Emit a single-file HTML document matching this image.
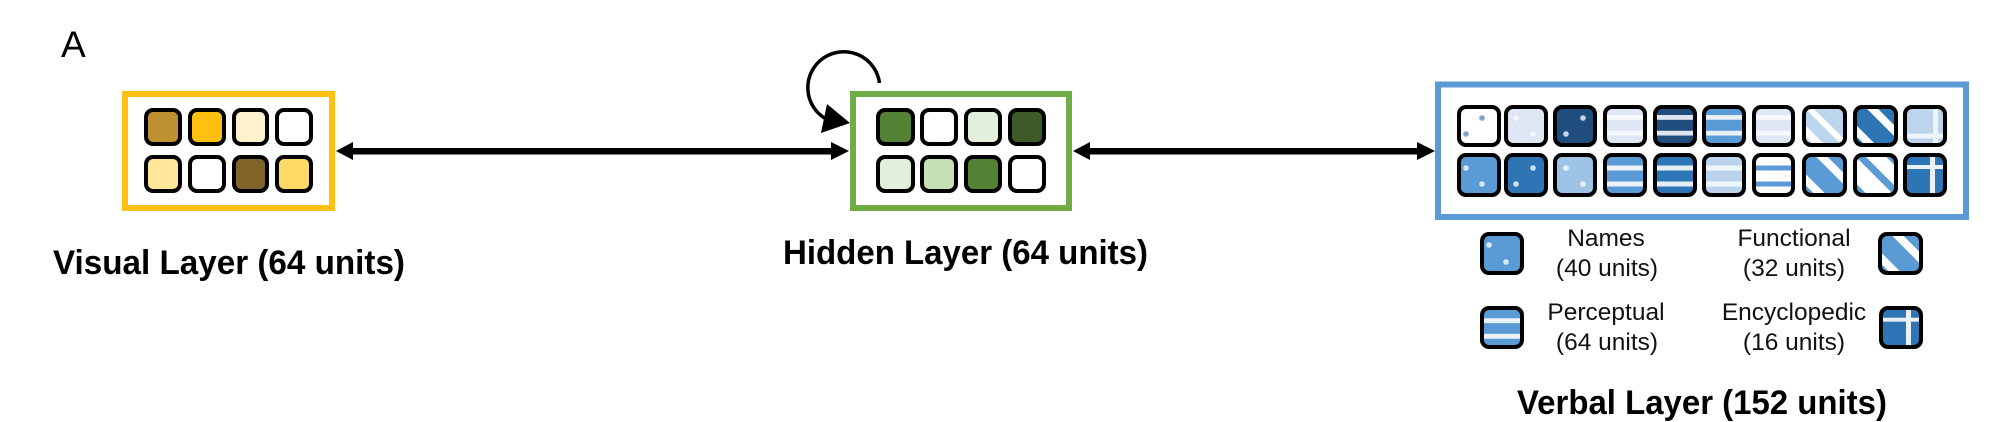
<!DOCTYPE html>
<html><head><meta charset="utf-8"><style>
html,body{margin:0;padding:0;background:#fff;width:2006px;height:422px;overflow:hidden}
svg{display:block}
text{font-family:"Liberation Sans",Arial,sans-serif;fill:#000}
.b{font-weight:700;font-size:34px}
.l{font-size:24.5px;text-anchor:middle;fill:#111}
.c rect{stroke:#000;stroke-width:4}
.o rect{fill:none;stroke:#000;stroke-width:4}
</style></head><body>
<svg width="2006" height="422" viewBox="0 0 2006 422" xmlns="http://www.w3.org/2000/svg">
<defs>
<clipPath id="r"><rect x="1" y="1" width="42" height="42" rx="9"/></clipPath>
<symbol id="s1" viewBox="0 0 44 44" preserveAspectRatio="none"><rect x="0" y="10.500" width="44" height="5"/><rect x="0" y="27" width="44" height="5"/></symbol>
<symbol id="s2" viewBox="0 0 44 44" preserveAspectRatio="none"><rect x="0" y="12.500" width="44" height="5"/><rect x="0" y="28.500" width="44" height="5"/></symbol>
<symbol id="g" viewBox="0 0 44 44"><g clip-path="url(#r)"><path d="M5 -10L60 45M-10 14L30 54" fill="none" stroke="currentColor" stroke-width="8"/></g></symbol>
<symbol id="g2" viewBox="0 0 44 44"><g clip-path="url(#r)"><path d="M-7 -10L50 47" fill="none" stroke="currentColor" stroke-width="6"/><path d="M-10 14L30 54" fill="none" stroke="currentColor" stroke-width="8"/></g></symbol>
<symbol id="g3" viewBox="0 0 44 44"><g clip-path="url(#r)"><path d="M-7 -10L50 47" fill="none" stroke="currentColor" stroke-width="7"/><path d="M-10 24L30 64M24 -10L64 30" fill="none" stroke="currentColor" stroke-width="8"/></g></symbol>
<symbol id="c1" viewBox="0 0 44 44" preserveAspectRatio="none"><rect x="0" y="30" width="44" height="5"/><rect x="30" y="0" width="5" height="44"/></symbol>
<symbol id="c2" viewBox="0 0 44 44" preserveAspectRatio="none"><rect x="0" y="12" width="44" height="4"/><rect x="27" y="0" width="5" height="44"/></symbol>
</defs>
<text x="61" y="57" font-size="37">A</text>

<!-- visual -->
<rect x="125" y="94" width="207" height="114" fill="#fff" stroke="#ffc015" stroke-width="6"/>
<g class="c">
<rect x="146" y="110" width="34" height="34" rx="7" fill="#bf9030"/>
<rect x="190" y="110" width="34" height="34" rx="7" fill="#ffc010"/>
<rect x="234" y="110" width="33" height="34" rx="7" fill="#fff2cc"/>
<rect x="277" y="110" width="34" height="34" rx="7" fill="#fff"/>
<rect x="146" y="157" width="34" height="34" rx="7" fill="#ffe699"/>
<rect x="190" y="157" width="34" height="34" rx="7" fill="#fff"/>
<rect x="234" y="157" width="33" height="34" rx="7" fill="#7f6328"/>
<rect x="277" y="157" width="34" height="34" rx="7" fill="#ffd966"/>
</g>

<!-- hidden -->
<rect x="853" y="94" width="216" height="114" fill="#fff" stroke="#70ad47" stroke-width="6"/>
<g class="c">
<rect x="878" y="110" width="35" height="34" rx="7" fill="#548235"/>
<rect x="922" y="110" width="34" height="34" rx="7" fill="#fff"/>
<rect x="966" y="110" width="34" height="34" rx="7" fill="#e2efda"/>
<rect x="1010" y="110" width="34" height="34" rx="7" fill="#3d5a2a"/>
<rect x="878" y="157" width="35" height="34" rx="7" fill="#e2efda"/>
<rect x="922" y="157" width="34" height="34" rx="7" fill="#c5e0b4"/>
<rect x="966" y="157" width="34" height="34" rx="7" fill="#548235"/>
<rect x="1010" y="157" width="34" height="34" rx="7" fill="#fff"/>
</g>

<!-- connectors -->
<rect x="350" y="148" width="484" height="6.500"/>
<path d="M336 151L353 142V160Z"/><path d="M849 151L831 142V160Z"/>
<rect x="1088" y="148" width="330" height="6.500"/>
<path d="M1073 151L1090 142V160Z"/>
<path d="M1435 151L1417 142V160Z"/>
<path d="M879.500 83A36 36 0 1 0 826 119" fill="none" stroke="#000" stroke-width="3.500"/>
<path d="M827 104L821 133L850 123Z"/>

<!-- verbal -->
<rect x="1438" y="84.500" width="528" height="132.500" fill="#fff" stroke="#5b9bd5" stroke-width="6"/>

<!-- row 1 fills -->
<rect x="1459" y="107" width="40" height="38" rx="7" fill="#fff"/>
<circle cx="1482" cy="118" r="2.800" fill="#7fa3d0"/><circle cx="1466" cy="134" r="2.800" fill="#7fa3d0"/>
<rect x="1506" y="107" width="40" height="38" rx="7" fill="#dee7f3"/>
<circle cx="1516" cy="118" r="2.800" fill="#f4f7fb"/><circle cx="1533" cy="134" r="2.800" fill="#f4f7fb"/>
<rect x="1555" y="107" width="40" height="38" rx="7" fill="#1f4e7e"/>
<circle cx="1583" cy="118" r="2.800" fill="#c8d6e8"/><circle cx="1566" cy="134" r="2.800" fill="#c8d6e8"/>
<rect x="1605" y="107" width="40" height="38" rx="7" fill="#dee7f3"/><use href="#s1" x="1603" y="105" width="44" height="42" fill="#f6f9fc"/>
<rect x="1655" y="107" width="40" height="38" rx="7" fill="#1f4e7e"/><use href="#s1" x="1653" y="105" width="44" height="42" fill="#dfe6ef"/>
<rect x="1704" y="107" width="40" height="38" rx="7" fill="#5b9bd5"/><use href="#s1" x="1702" y="105" width="44" height="42" fill="#e8f0f8"/>
<rect x="1754" y="107" width="39" height="38" rx="7" fill="#dee7f3"/><use href="#s1" x="1752" y="105" width="43" height="42" fill="#f6f9fc"/>
<rect x="1804" y="107" width="41" height="38" rx="7" fill="#bdd5ec"/><use href="#g2" x="1803" y="105" width="43" height="43" color="#fff"/>
<rect x="1855" y="107" width="41" height="38" rx="7" fill="#2e75b6"/><use href="#g" x="1854" y="105" width="43" height="43" color="#fff"/>
<rect x="1905" y="107" width="40" height="38" rx="7" fill="#bdd5ec"/><use href="#c1" x="1903" y="105" width="44" height="42" fill="#eef4fa"/>

<!-- row 2 fills -->
<rect x="1459" y="155" width="40" height="40" rx="7" fill="#5b9bd5"/>
<circle cx="1466" cy="168" r="2.800" fill="#dbe8f5"/><circle cx="1482" cy="184" r="2.800" fill="#dbe8f5"/>
<rect x="1506" y="155" width="40" height="40" rx="7" fill="#2e75b6"/>
<circle cx="1533" cy="168" r="2.800" fill="#d3e2f1"/><circle cx="1516" cy="184" r="2.800" fill="#d3e2f1"/>
<rect x="1555" y="155" width="40" height="40" rx="7" fill="#9dc3e6"/>
<circle cx="1566" cy="168" r="2.800" fill="#e6eff8"/><circle cx="1583" cy="184" r="2.800" fill="#e6eff8"/>
<rect x="1605" y="155" width="40" height="40" rx="7" fill="#5b9bd5"/><use href="#s2" x="1603" y="153" width="44" height="44" fill="#eaf1f8"/>
<rect x="1655" y="155" width="40" height="40" rx="7" fill="#2e75b6"/><use href="#s2" x="1653" y="153" width="44" height="44" fill="#e6eef7"/>
<rect x="1704" y="155" width="40" height="40" rx="7" fill="#bdd5ec"/><use href="#s2" x="1702" y="153" width="44" height="44" fill="#f0f5fa"/>
<rect x="1754" y="155" width="39" height="40" rx="7" fill="#fff"/><use href="#s2" x="1752" y="153" width="43" height="44" fill="#5b9bd5"/>
<rect x="1804" y="155" width="41" height="40" rx="7" fill="#5b9bd5"/><use href="#g" x="1803" y="153" width="44" height="44" color="#fff"/>
<rect x="1855" y="155" width="41" height="40" rx="7" fill="#fff"/><use href="#g3" x="1854" y="153" width="44" height="44" color="#5b9bd5"/>
<rect x="1905" y="155" width="40" height="40" rx="7" fill="#2e75b6"/><use href="#c2" x="1903" y="153" width="44" height="44" fill="#eaf1f8"/>

<g class="o">
<rect x="1459" y="107" width="40" height="38" rx="7"/><rect x="1506" y="107" width="40" height="38" rx="7"/><rect x="1555" y="107" width="40" height="38" rx="7"/><rect x="1605" y="107" width="40" height="38" rx="7"/><rect x="1655" y="107" width="40" height="38" rx="7"/><rect x="1704" y="107" width="40" height="38" rx="7"/><rect x="1754" y="107" width="39" height="38" rx="7"/><rect x="1804" y="107" width="41" height="38" rx="7"/><rect x="1855" y="107" width="41" height="38" rx="7"/><rect x="1905" y="107" width="40" height="38" rx="7"/>
<rect x="1459" y="155" width="40" height="40" rx="7"/><rect x="1506" y="155" width="40" height="40" rx="7"/><rect x="1555" y="155" width="40" height="40" rx="7"/><rect x="1605" y="155" width="40" height="40" rx="7"/><rect x="1655" y="155" width="40" height="40" rx="7"/><rect x="1704" y="155" width="40" height="40" rx="7"/><rect x="1754" y="155" width="39" height="40" rx="7"/><rect x="1804" y="155" width="41" height="40" rx="7"/><rect x="1855" y="155" width="41" height="40" rx="7"/><rect x="1905" y="155" width="40" height="40" rx="7"/>
</g>

<!-- legend swatches -->
<rect x="1482" y="234" width="40" height="39" rx="7" fill="#5b9bd5"/>
<circle cx="1489" cy="245" r="2.800" fill="#dbe8f5"/><circle cx="1506" cy="262" r="2.800" fill="#dbe8f5"/>
<rect x="1482" y="308" width="40" height="39" rx="7" fill="#5b9bd5"/><use href="#s2" x="1480" y="306" width="44" height="43" fill="#eaf1f8"/>
<rect x="1880" y="234" width="41" height="39" rx="7" fill="#5b9bd5"/><use href="#g" x="1879" y="232" width="44" height="44" color="#fff"/>
<rect x="1881" y="308" width="40" height="39" rx="7" fill="#2e75b6"/><use href="#c2" x="1879" y="306" width="44" height="43" fill="#eaf1f8"/>
<g class="o">
<rect x="1482" y="234" width="40" height="39" rx="7"/><rect x="1482" y="308" width="40" height="39" rx="7"/><rect x="1880" y="234" width="41" height="39" rx="7"/><rect x="1881" y="308" width="40" height="39" rx="7"/>
</g>

<!-- labels -->
<text class="l" x="1606" y="246">Names</text>
<text class="l" x="1607" y="276">(40 units)</text>
<text class="l" x="1606" y="320">Perceptual</text>
<text class="l" x="1607" y="350">(64 units)</text>
<text class="l" x="1794" y="246">Functional</text>
<text class="l" x="1794" y="276">(32 units)</text>
<text class="l" x="1794" y="320">Encyclopedic</text>
<text class="l" x="1794" y="350">(16 units)</text>
<text class="b" x="53" y="274" textLength="352" lengthAdjust="spacingAndGlyphs">Visual Layer (64 units)</text>
<text class="b" x="783" y="264" textLength="365" lengthAdjust="spacingAndGlyphs">Hidden Layer (64 units)</text>
<text class="b" x="1517" y="414" textLength="370" lengthAdjust="spacingAndGlyphs">Verbal Layer (152 units)</text>
</svg>
</body></html>
